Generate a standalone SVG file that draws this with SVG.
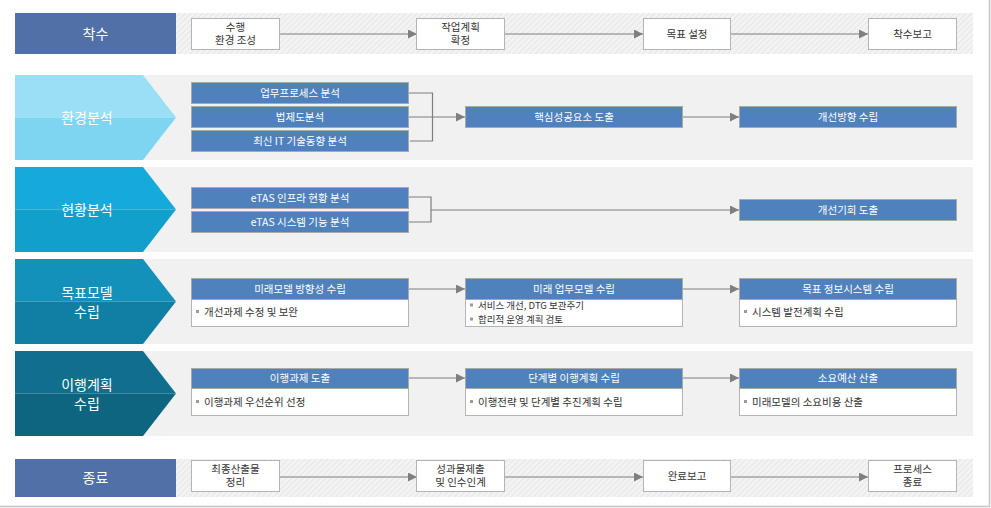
<svg xmlns="http://www.w3.org/2000/svg" width="991" height="508" viewBox="0 0 991 508">
<defs>
<pattern id="hatch" width="4" height="4" patternUnits="userSpaceOnUse" patternTransform="rotate(45)">
<rect width="4" height="4" fill="#f3f3f3"/>
<line x1="0" y1="0" x2="0" y2="4" stroke="#e2e2e2" stroke-width="1.5"/>
</pattern>
<marker id="arr" viewBox="0 0 10 10" refX="10" refY="5" markerWidth="9" markerHeight="9" markerUnits="userSpaceOnUse" orient="auto">
<path d="M0,0 L10,5 L0,10 z" fill="#7f7f7f"/>
</marker>
</defs>
<style>
text{font-family:"Noto Sans CJK KR","Noto Sans",sans-serif;}
.hdr{fill:#5170A7;}
.band{fill:#f1f1f1;}
.hband{fill:url(#hatch);}
.wbox{fill:#fff;stroke:#b4b4b4;stroke-width:1;}
.bbox{fill:#4F81BD;stroke:#a9a9a9;stroke-width:1;}
.ttl{fill:#fff;font-size:14px;text-anchor:middle;}
.wt{fill:#333;font-size:10.5px;text-anchor:middle;}
.bt{fill:#fff;font-size:10.5px;text-anchor:middle;}
.lt{fill:#333;font-size:10.5px;}
.lt2{fill:#333;font-size:9.5px;}
.bul{fill:#9a9a9a;}
.con{fill:none;stroke:#7f7f7f;stroke-width:1.2;}
.frame{stroke:#c4c4c4;stroke-width:1.5;}
</style>
<rect width="991" height="508" fill="#fff"/>
<line class="frame" x1="989.5" y1="0" x2="989.5" y2="507"/>
<line class="frame" x1="0" y1="506.5" x2="990" y2="506.5"/>

<g id="bands">
<rect class="hband" x="176" y="13" width="797" height="41"/>
<rect class="band" x="15" y="75" width="958" height="85"/>
<rect class="band" x="15" y="167" width="958" height="85"/>
<rect class="band" x="15" y="259" width="958" height="85"/>
<rect class="band" x="15" y="351" width="958" height="85"/>
<rect class="hband" x="176" y="459" width="797" height="38"/>
</g>

<g id="stage-start">
<rect class="hdr" x="15" y="13" width="161" height="41"/>
<text class="ttl" x="95.5" y="38.5">착수</text>
</g>
<g id="stage-env">
<polygon points="15,75 143,75 176,117.5 15,117.5" fill="#9BDFF6"/>
<polygon points="15,117.5 176,117.5 143,160 15,160" fill="#7ED5F1"/>
<text class="ttl" x="87" y="122.5">환경분석</text>
</g>
<g id="stage-cur">
<polygon points="15,167 143,167 176,209.5 15,209.5" fill="#16AADA"/>
<polygon points="15,209.5 176,209.5 143,252 15,252" fill="#139FCB"/>
<text class="ttl" x="87" y="214.5">현황분석</text>
</g>
<g id="stage-model">
<polygon points="15,259 143,259 176,301.5 15,301.5" fill="#1391BA"/>
<polygon points="15,301.5 176,301.5 143,344 15,344" fill="#107FA4"/>
<text class="ttl" x="87" y="298">목표모델</text>
<text class="ttl" x="87" y="317">수립</text>
</g>
<g id="stage-trans">
<polygon points="15,351 143,351 176,393.5 15,393.5" fill="#106F8D"/>
<polygon points="15,393.5 176,393.5 143,436 15,436" fill="#0E6580"/>
<text class="ttl" x="87" y="390">이행계획</text>
<text class="ttl" x="87" y="409">수립</text>
</g>
<g id="stage-end">
<rect class="hdr" x="15" y="459" width="161" height="38"/>
<text class="ttl" x="95.5" y="483">종료</text>
</g>

<g id="connectors">
<path class="con" d="M280,34 H417" marker-end="url(#arr)"/>
<path class="con" d="M505,34 H643" marker-end="url(#arr)"/>
<path class="con" d="M730,34 H868" marker-end="url(#arr)"/>
<path class="con" d="M408,93 H432.5 V141 H410"/>
<path class="con" d="M408,117 H465" marker-end="url(#arr)"/>
<path class="con" d="M683,117 H739" marker-end="url(#arr)"/>
<path class="con" d="M408,197 H431 V222 H408"/>
<path class="con" d="M431,210 H739" marker-end="url(#arr)"/>
<path class="con" d="M408,289 H465" marker-end="url(#arr)"/>
<path class="con" d="M683,289 H739" marker-end="url(#arr)"/>
<path class="con" d="M408,378 H465" marker-end="url(#arr)"/>
<path class="con" d="M683,378 H739" marker-end="url(#arr)"/>
<path class="con" d="M280,477 H417" marker-end="url(#arr)"/>
<path class="con" d="M505,477 H643" marker-end="url(#arr)"/>
<path class="con" d="M730,477 H868" marker-end="url(#arr)"/>
</g>

<g id="n-s1"><rect class="wbox" x="191.5" y="18.5" width="88" height="31"/><text class="wt" x="235.5" y="30.5">수행</text><text class="wt" x="235.5" y="44">환경 조성</text></g>
<g id="n-s2"><rect class="wbox" x="416.5" y="18.5" width="88" height="31"/><text class="wt" x="460.5" y="30.5">작업계획</text><text class="wt" x="460.5" y="44">확정</text></g>
<g id="n-s3"><rect class="wbox" x="643.5" y="18.5" width="87" height="31"/><text class="wt" x="687" y="38">목표 설정</text></g>
<g id="n-s4"><rect class="wbox" x="868.5" y="18.5" width="88" height="31"/><text class="wt" x="912.5" y="38">착수보고</text></g>

<g id="n-e1"><rect class="bbox" x="191.5" y="82.5" width="217" height="21"/><text class="bt" x="300" y="96.5">업무프로세스 분석</text></g>
<g id="n-e2"><rect class="bbox" x="191.5" y="106.5" width="217" height="21"/><text class="bt" x="300" y="120.5">법제도분석</text></g>
<g id="n-e3"><rect class="bbox" x="191.5" y="130.5" width="217" height="21"/><text class="bt" x="300" y="144.5">최신 IT 기술동향 분석</text></g>
<g id="n-e4"><rect class="bbox" x="465.5" y="106.5" width="217" height="21"/><text class="bt" x="574" y="120.5">핵심성공요소 도출</text></g>
<g id="n-e5"><rect class="bbox" x="739.5" y="106.5" width="217" height="21"/><text class="bt" x="848" y="120.5">개선방향 수립</text></g>

<g id="n-c1"><rect class="bbox" x="191.5" y="187.5" width="217" height="21"/><text class="bt" x="300" y="201.5">eTAS 인프라 현황 분석</text></g>
<g id="n-c2"><rect class="bbox" x="191.5" y="211.5" width="217" height="21"/><text class="bt" x="300" y="225.5">eTAS 시스템 기능 분석</text></g>
<g id="n-c3"><rect class="bbox" x="739.5" y="199.5" width="217" height="21"/><text class="bt" x="848" y="213.5">개선기회 도출</text></g>

<g id="n-m1"><rect class="wbox" x="191.5" y="278.5" width="217" height="48"/><rect class="bbox" x="191.5" y="278.5" width="217" height="21"/><text class="bt" x="300" y="292.5">미래모델 방향성 수립</text><rect class="bul" x="196" y="310" width="3" height="3"/><text class="lt" x="204" y="316">개선과제 수정 및 보완</text></g>
<g id="n-m2"><rect class="wbox" x="465.5" y="278.5" width="217" height="48"/><rect class="bbox" x="465.5" y="278.5" width="217" height="21"/><text class="bt" x="574" y="292.5">미래 업무모델 수립</text><rect class="bul" x="470" y="303.5" width="3" height="3"/><text class="lt2" x="478" y="308.5">서비스 개선, DTG 보관주기</text><rect class="bul" x="470" y="317.5" width="3" height="3"/><text class="lt2" x="478" y="322.5">합리적 운영 계획 검토</text></g>
<g id="n-m3"><rect class="wbox" x="739.5" y="278.5" width="217" height="48"/><rect class="bbox" x="739.5" y="278.5" width="217" height="21"/><text class="bt" x="848" y="292.5">목표 정보시스템 수립</text><rect class="bul" x="744" y="310" width="3" height="3"/><text class="lt" x="752" y="316">시스템 발전계획 수립</text></g>

<g id="n-t1"><rect class="wbox" x="191.5" y="368.5" width="217" height="47"/><rect class="bbox" x="191.5" y="368.5" width="217" height="20"/><text class="bt" x="300" y="382">이행과제 도출</text><rect class="bul" x="196" y="400" width="3" height="3"/><text class="lt" x="204" y="406">이행과제 우선순위 선정</text></g>
<g id="n-t2"><rect class="wbox" x="465.5" y="368.5" width="217" height="47"/><rect class="bbox" x="465.5" y="368.5" width="217" height="20"/><text class="bt" x="574" y="382">단계별 이행계획 수립</text><rect class="bul" x="470" y="400" width="3" height="3"/><text class="lt" x="478" y="406">이행전략 및 단계별 추진계획 수립</text></g>
<g id="n-t3"><rect class="wbox" x="739.5" y="368.5" width="217" height="47"/><rect class="bbox" x="739.5" y="368.5" width="217" height="20"/><text class="bt" x="848" y="382">소요예산 산출</text><rect class="bul" x="744" y="400" width="3" height="3"/><text class="lt" x="752" y="406">미래모델의 소요비용 산출</text></g>

<g id="n-f1"><rect class="wbox" x="191.5" y="460.5" width="88" height="31"/><text class="wt" x="235.5" y="472.5">최종산출물</text><text class="wt" x="235.5" y="486">정리</text></g>
<g id="n-f2"><rect class="wbox" x="416.5" y="460.5" width="88" height="31"/><text class="wt" x="460.5" y="472.5">성과물제출</text><text class="wt" x="460.5" y="486">및 인수인계</text></g>
<g id="n-f3"><rect class="wbox" x="643.5" y="460.5" width="87" height="31"/><text class="wt" x="687" y="480">완료보고</text></g>
<g id="n-f4"><rect class="wbox" x="868.5" y="460.5" width="88" height="31"/><text class="wt" x="912.5" y="472.5">프로세스</text><text class="wt" x="912.5" y="486">종료</text></g>
</svg>
